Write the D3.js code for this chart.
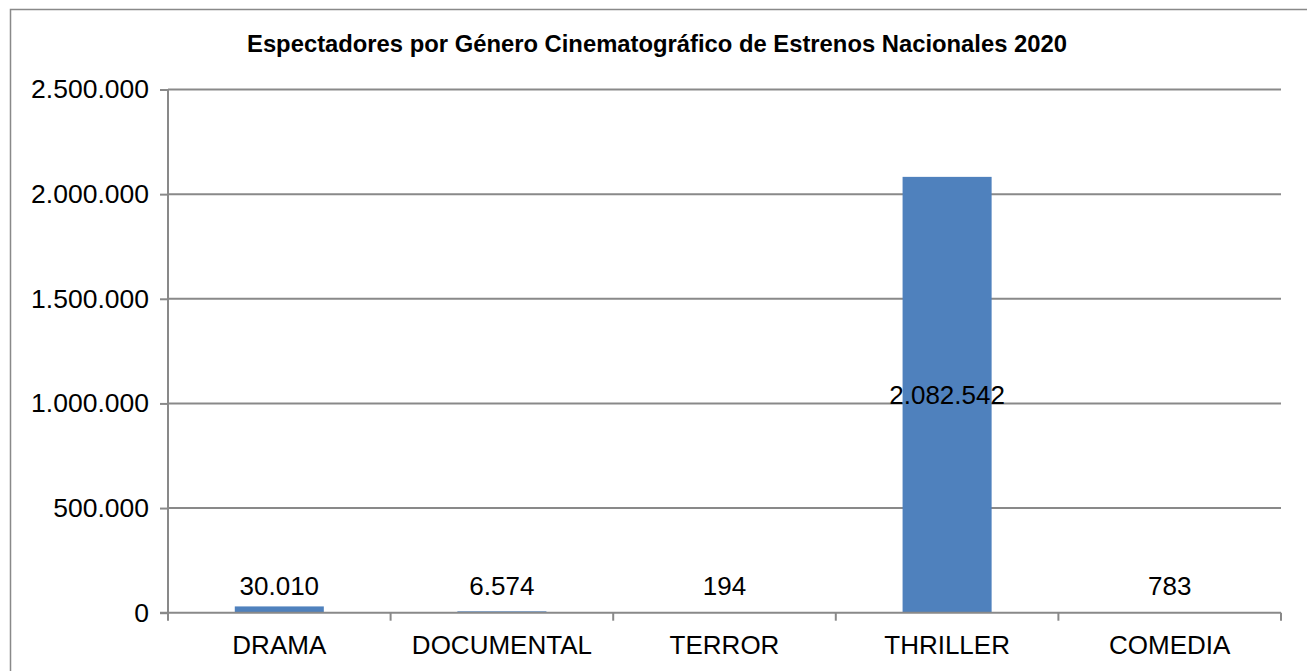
<!DOCTYPE html>
<html>
<head>
<meta charset="utf-8">
<script src="https://cdn.jsdelivr.net/npm/d3@7"></script>
<style>
  html, body { margin: 0; padding: 0; background: #ffffff; }
  svg { display: block; }
  text { font-family: "Liberation Sans", Arial, sans-serif; fill: #000; }
</style>
</head>
<body>
<svg id="chart" width="1307" height="671"></svg>
<script>
const title = "Espectadores por Género Cinematográfico de Estrenos Nacionales 2020";
const categories = ["DRAMA", "DOCUMENTAL", "TERROR", "THRILLER", "COMEDIA"];
const values = [30010, 6574, 194, 2082542, 783];
const yTicks = [0, 500000, 1000000, 1500000, 2000000, 2500000];

const fmt = d3.formatLocale({decimal: ",", thousands: ".", grouping: [3], currency: ["$", ""]}).format(",d");

const svg = d3.select("#chart");
const W = 1307, H = 671;
const plot = {left: 168, right: 1281, top: 89.5, bottom: 612.7};
const gridColor = "#898989";

// outer border
svg.append("rect")
  .attr("x", 10.5).attr("y", 9.5)
  .attr("width", W + 20).attr("height", H + 20)
  .attr("fill", "none").attr("stroke", gridColor).attr("stroke-width", 1.5);

const x = d3.scaleBand().domain(categories).range([plot.left, plot.right]).paddingInner(0).paddingOuter(0);
const y = d3.scaleLinear().domain([0, 2500000]).range([plot.bottom, plot.top]);

// gridlines
svg.append("g").selectAll("line").data(yTicks.filter(d => d > 0)).join("line")
  .attr("x1", plot.left).attr("x2", plot.right)
  .attr("y1", d => y(d)).attr("y2", d => y(d))
  .attr("stroke", gridColor).attr("stroke-width", 2);

// bars
const barW = x.bandwidth() * 0.4;
svg.append("g").selectAll("rect").data(values).join("rect")
  .attr("x", (d, i) => x(categories[i]) + (x.bandwidth() - barW) / 2)
  .attr("y", d => y(d))
  .attr("width", barW)
  .attr("height", d => plot.bottom - y(d))
  .attr("fill", "#4F81BD");

// y axis
const yAxis = d3.axisLeft(y).tickValues(yTicks).tickFormat(fmt).tickSize(8).tickPadding(11);
const gy = svg.append("g").attr("transform", `translate(${plot.left},0)`).call(yAxis);
gy.select(".domain").attr("stroke", gridColor).attr("stroke-width", 2).attr("d", `M0,${plot.top}V${plot.bottom}`);
gy.selectAll(".tick line").attr("stroke", gridColor).attr("stroke-width", 2);
gy.selectAll(".tick text").attr("font-size", 26.5).attr("font-family", "Liberation Sans, Arial, sans-serif").attr("fill", "#000");

// x axis
const xAxis = d3.axisBottom(x).tickSize(0).tickPadding(23);
const gx = svg.append("g").attr("transform", `translate(0,${plot.bottom})`).call(xAxis);
gx.select(".domain").attr("stroke", gridColor).attr("stroke-width", 2).attr("d", `M${plot.left - 8},0H${plot.right}`);
gx.selectAll(".tick text").attr("font-size", 26).attr("font-family", "Liberation Sans, Arial, sans-serif").attr("fill", "#000")
  .attr("dy", "0.71em");
// category boundary ticks
const bounds = categories.map(c => x(c)).concat([plot.right]);
gx.append("g").selectAll("line").data(bounds).join("line")
  .attr("x1", d => d).attr("x2", d => d).attr("y1", 0).attr("y2", 8)
  .attr("stroke", gridColor).attr("stroke-width", 2);

// data labels
const isBig = d => plot.bottom - y(d) > 100;
svg.append("g").selectAll("text").data(values).join("text")
  .attr("x", (d, i) => x(categories[i]) + x.bandwidth() / 2)
  .attr("y", d => isBig(d) ? (y(d) + plot.bottom) / 2 : Math.min(y(d) - 11, plot.bottom - 17.5))
  .attr("dy", d => isBig(d) ? "0.35em" : 0)
  .attr("text-anchor", "middle")
  .attr("font-size", 26)
  .text(d => fmt(d));

// title
svg.append("text")
  .attr("x", 657).attr("y", 52)
  .attr("text-anchor", "middle")
  .attr("font-size", 23.8).attr("font-weight", "bold")
  .text(title);
</script>
</body>
</html>
